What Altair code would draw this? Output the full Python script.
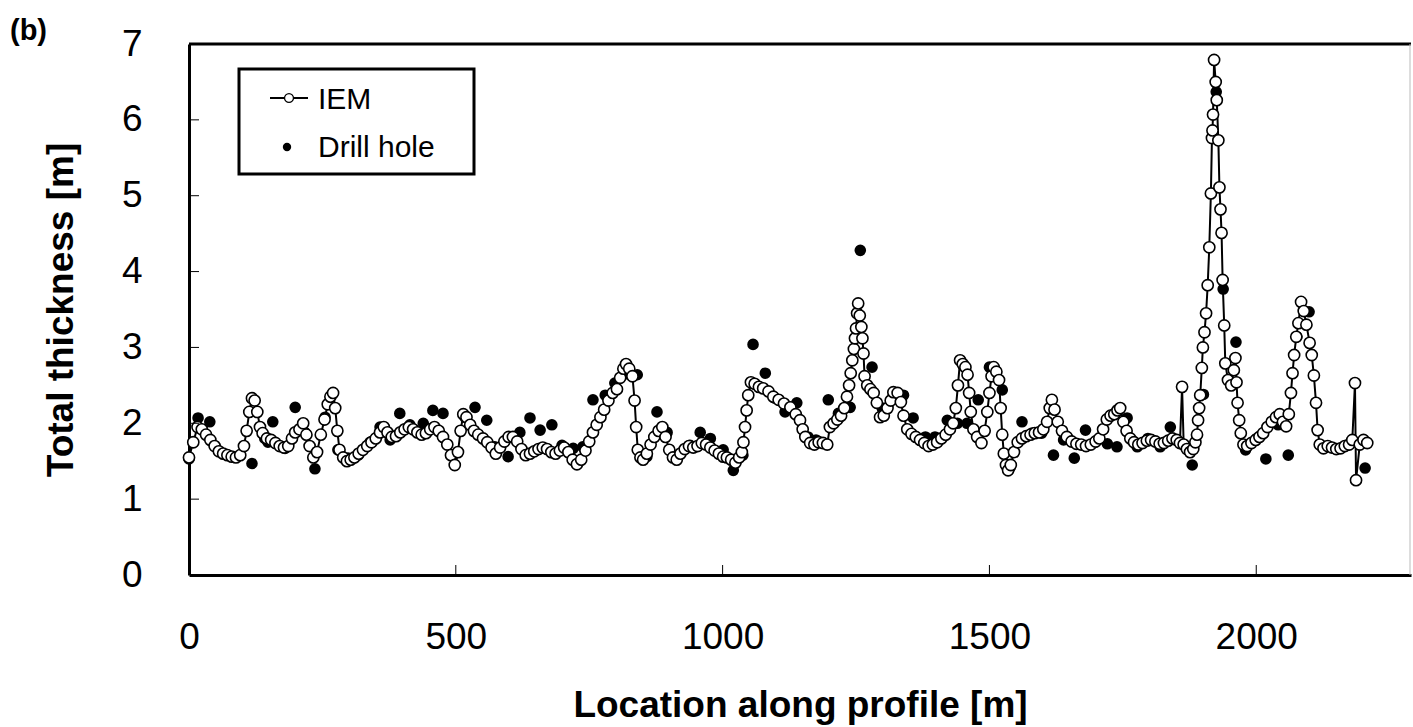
import altair as alt
import pandas as pd

# ---------------- data ----------------
iem_x = [0, 8, 16, 24, 32, 40, 48, 56, 64, 72, 80, 88, 96, 103, 108, 113, 118, 123, 128, 133,
         138, 146, 154, 162, 170, 178, 186, 193, 199, 207, 214, 220, 226, 233, 240, 247, 254, 260, 265, 270,
         274, 278, 282, 289, 296, 303, 310, 318, 326, 334, 342, 350, 358, 365, 372, 380, 388, 396, 404, 412,
         420, 428, 436, 444, 452, 460, 468, 476, 484, 491, 498, 504, 509, 514, 520, 527, 534, 542, 551, 559,
         567, 575, 583, 591, 599, 607, 615, 623, 631, 639, 647, 655, 663, 671, 679, 687, 695, 703, 711, 719,
         727, 735, 743, 750, 757, 764, 771, 778, 786, 794, 802, 808, 814, 819, 825, 831, 835, 838, 841, 846,
         851, 858, 865, 872, 880, 887, 893, 900, 907, 914, 921, 929, 937, 945, 953, 961, 969, 977, 985, 993,
         1001, 1008, 1016, 1024, 1031, 1036, 1039, 1042, 1045, 1048, 1053, 1060, 1068, 1076, 1086, 1095, 1105, 1115, 1127, 1137,
         1145, 1150, 1155, 1164, 1172, 1180, 1188, 1196, 1201, 1208, 1215, 1222, 1228, 1233, 1237, 1240, 1243, 1246, 1248, 1250,
         1252, 1254, 1257, 1260, 1262, 1264, 1266, 1271, 1277, 1283, 1289, 1295, 1302, 1309, 1315, 1320, 1328, 1334, 1339, 1346,
         1354, 1362, 1370, 1378, 1386, 1394, 1402, 1410, 1418, 1426, 1432, 1437, 1441, 1445, 1450, 1455, 1459, 1462, 1465, 1470,
         1477, 1485, 1491, 1496, 1500, 1504, 1508, 1513, 1518, 1521, 1524, 1527, 1531, 1535, 1540, 1546, 1553, 1561, 1569, 1577,
         1585, 1593, 1601, 1608, 1613, 1617, 1622, 1628, 1636, 1645, 1654, 1663, 1672, 1681, 1690, 1699, 1706, 1713, 1720, 1727,
         1734, 1740, 1745, 1751, 1757, 1764, 1771, 1779, 1787, 1795, 1803, 1811, 1819, 1827, 1835, 1843, 1851, 1857, 1861, 1864,
         1870, 1876, 1882, 1886, 1889, 1891, 1893, 1895, 1898, 1900, 1903, 1906, 1909, 1912, 1915, 1917, 1918, 1919, 1921, 1924,
         1926, 1929, 1931, 1933, 1935, 1937, 1940, 1942, 1947, 1953, 1958, 1961, 1963, 1965, 1968, 1971, 1976, 1983, 1991, 1999,
         2006, 2013, 2021, 2029, 2037, 2044, 2050, 2056, 2061, 2065, 2068, 2071, 2075, 2079, 2084, 2089, 2094, 2100, 2104, 2108,
         2112, 2115, 2119, 2126, 2134, 2142, 2150, 2158, 2166, 2174, 2180, 2185, 2187, 2194, 2201, 2208]
iem_y = [1.55, 1.75, 1.95, 1.92, 1.85, 1.78, 1.70, 1.63, 1.60, 1.58, 1.56, 1.55, 1.58, 1.70, 1.90, 2.15, 2.33, 2.30, 2.15, 1.95,
         1.87, 1.80, 1.78, 1.74, 1.70, 1.68, 1.70, 1.80, 1.88, 1.92, 2.00, 1.85, 1.70, 1.55, 1.62, 1.85, 2.05, 2.25, 2.35, 2.40,
         2.20, 1.90, 1.65, 1.55, 1.50, 1.52, 1.55, 1.60, 1.65, 1.70, 1.75, 1.80, 1.88, 1.95, 1.88, 1.82, 1.83, 1.88, 1.92, 1.95,
         1.92, 1.88, 1.85, 1.87, 1.92, 1.95, 1.90, 1.82, 1.72, 1.58, 1.45, 1.62, 1.90, 2.12, 2.08, 1.98, 1.90, 1.85, 1.80, 1.75,
         1.68, 1.60, 1.68, 1.76, 1.82, 1.82, 1.76, 1.66, 1.58, 1.60, 1.63, 1.66, 1.68, 1.66, 1.62, 1.60, 1.64, 1.68, 1.62, 1.52,
         1.46, 1.52, 1.64, 1.76, 1.88, 1.98, 2.08, 2.18, 2.30, 2.40, 2.45, 2.60, 2.72, 2.78, 2.72, 2.62, 2.30, 1.95, 1.65, 1.55,
         1.52, 1.60, 1.72, 1.82, 1.90, 1.95, 1.82, 1.65, 1.55, 1.52, 1.60, 1.66, 1.70, 1.68, 1.70, 1.74, 1.72, 1.68, 1.64, 1.60,
         1.56, 1.55, 1.52, 1.48, 1.55, 1.62, 1.75, 1.95, 2.17, 2.37, 2.54, 2.52, 2.48, 2.46, 2.42, 2.35, 2.31, 2.26, 2.21, 2.12,
         2.04, 1.92, 1.82, 1.74, 1.72, 1.75, 1.74, 1.72, 1.95, 2.00, 2.05, 2.10, 2.20, 2.35, 2.50, 2.66, 2.83, 2.98, 3.12, 3.25,
         3.45, 3.58, 3.42, 3.27, 3.12, 2.92, 2.62, 2.50, 2.45, 2.40, 2.27, 2.08, 2.10, 2.20, 2.30, 2.41, 2.40, 2.28, 2.10, 1.92,
         1.86, 1.82, 1.78, 1.74, 1.70, 1.72, 1.75, 1.80, 1.85, 1.92, 2.00, 2.20, 2.50, 2.83, 2.78, 2.74, 2.64, 2.40, 2.15, 1.92,
         1.82, 1.74, 1.90, 2.15, 2.40, 2.62, 2.74, 2.68, 2.57, 2.20, 1.85, 1.60, 1.45, 1.38, 1.45, 1.62, 1.75, 1.80, 1.83, 1.85,
         1.87, 1.88, 1.92, 2.02, 2.20, 2.31, 2.18, 2.02, 1.90, 1.82, 1.76, 1.73, 1.72, 1.70, 1.72, 1.76, 1.80, 1.92, 2.05, 2.10,
         2.12, 2.17, 2.20, 2.02, 1.90, 1.80, 1.75, 1.72, 1.74, 1.77, 1.78, 1.76, 1.73, 1.74, 1.77, 1.80, 1.78, 1.74, 2.48, 1.72,
         1.66, 1.62, 1.66, 1.75, 1.85, 2.04, 2.20, 2.37, 2.73, 3.00, 3.20, 3.45, 3.82, 4.32, 5.03, 5.76, 5.86, 6.07, 6.79, 6.50,
         6.26, 5.73, 5.11, 4.82, 4.51, 3.89, 3.29, 2.79, 2.57, 2.50, 2.70, 2.86, 2.54, 2.27, 2.04, 1.87, 1.72, 1.70, 1.74, 1.78,
         1.82, 1.87, 1.95, 2.02, 2.08, 2.12, 2.02, 1.96, 2.12, 2.40, 2.66, 2.90, 3.14, 3.32, 3.60, 3.48, 3.30, 3.06, 2.90, 2.63,
         2.27, 1.91, 1.72, 1.67, 1.70, 1.68, 1.66, 1.67, 1.70, 1.72, 1.78, 2.53, 1.25, 1.72, 1.78, 1.74]

drill_x = [0, 17, 39, 118, 142, 148, 157, 180, 199, 217, 236, 255, 279, 298, 317, 339, 358, 377, 395, 414,
           439, 457, 476, 495, 517, 536, 558, 573, 598, 620, 639, 658, 680, 699, 720, 738, 757, 780, 798, 817,
           840, 858, 877, 896, 917, 939, 958, 977, 1001, 1020, 1038, 1057, 1080, 1098, 1117, 1139, 1160, 1175, 1198, 1217,
           1239, 1258, 1280, 1299, 1320, 1339, 1357, 1380, 1398, 1421, 1440, 1458, 1479, 1500, 1524, 1539, 1561, 1580, 1598, 1620,
           1639, 1659, 1680, 1698, 1721, 1739, 1758, 1777, 1797, 1820, 1839, 1857, 1880, 1901, 1925, 1938, 1962, 1980, 2001, 2018,
           2041, 2060, 2076, 2099, 2204]
drill_y = [1.53, 2.07, 2.02, 1.47, 1.80, 1.75, 2.02, 1.67, 2.21, 1.88, 1.40, 2.08, 1.65, 1.54, 1.58, 1.75, 1.95, 1.78, 2.13, 1.98,
           2.00, 2.17, 2.13, 1.58, 2.08, 2.21, 2.04, 1.69, 1.56, 1.88, 2.07, 1.91, 1.98, 1.71, 1.67, 1.69, 2.31, 2.37, 2.53, 2.65,
           2.64, 1.56, 2.15, 1.88, 1.58, 1.71, 1.88, 1.80, 1.65, 1.38, 1.58, 3.04, 2.66, 2.33, 2.15, 2.27, 1.82, 1.78, 2.31, 2.13,
           2.21, 4.28, 2.74, 2.20, 2.37, 2.37, 2.07, 1.82, 1.82, 2.04, 2.00, 2.00, 2.31, 2.74, 2.44, 1.42, 2.02, 1.87, 1.87, 1.58,
           1.78, 1.54, 1.91, 1.75, 1.73, 1.69, 2.07, 1.69, 1.80, 1.69, 1.95, 1.75, 1.45, 2.38, 6.37, 3.77, 3.07, 1.65, 1.80, 1.53,
           1.98, 1.58, 3.14, 3.47, 1.41]

x_ticks = [0, 500, 1000, 1500, 2000]
x_inner_ticks = [500, 1000, 1500, 2000]
y_ticks = [0, 1, 2, 3, 4, 5, 6, 7]
y_inner_ticks = [1, 2, 3, 4, 5, 6]
legend_labels = ["IEM", "Drill hole"]
panel_label = ["(b)"]

# ---------------- layout / style ----------------
W, H = 1222, 531
FONT = "Liberation Sans, Arial, Helvetica, sans-serif"

iem = pd.DataFrame({"x": iem_x, "y": iem_y})
drill = pd.DataFrame({"x": drill_x, "y": drill_y})
one = pd.DataFrame({"k": [0]})

xscale = alt.Scale(domain=[0, 2290], nice=False, zero=False)
yscale = alt.Scale(domain=[0, 7], nice=False, zero=False)

xaxis = alt.Axis(values=x_ticks, format="d", title="Location along profile [m]", labelFontSize=37,
                 labelFont=FONT, labelColor="black", labelPadding=44, tickSize=0, domainWidth=3,
                 domainColor="black", grid=False, labelFlush=False, titleFont=FONT, titleFontSize=37,
                 titleFontWeight="bold", titleColor="black", titleX=W / 2, titleY=141,
                 titleBaseline="alphabetic", titleAlign="center")
yaxis = alt.Axis(values=y_ticks, format="d", title="Total thickness [m]", labelFontSize=37, labelFont=FONT,
                 labelColor="black", labelPadding=47, tickSize=0, domainWidth=3, domainColor="black",
                 grid=False, labelFlush=False, titleFont=FONT, titleFontSize=37, titleFontWeight="bold",
                 titleColor="black", titleX=-117, titleY=H / 2, titleAngle=270, titleBaseline="alphabetic",
                 titleAlign="center")

X = alt.X("x:Q", scale=xscale, axis=xaxis)
Y = alt.Y("y:Q", scale=yscale, axis=yaxis)

drill_layer = alt.Chart(drill).mark_circle(color="black", size=135, opacity=1).encode(x=X, y=Y)
iem_line = alt.Chart(iem).mark_line(color="black", strokeWidth=2).encode(x=X, y=Y, order="x:Q")
iem_pts = alt.Chart(iem).mark_circle(fill="white", stroke="black", strokeWidth=1.6, size=125,
                                     opacity=1).encode(x=X, y=Y)

xt = alt.Chart(pd.DataFrame({"x": x_inner_ticks})).mark_rule(color="black", strokeWidth=1).encode(
    x=X, y=alt.value(H), y2=alt.value(H - 10))
yt = alt.Chart(pd.DataFrame({"y": y_inner_ticks})).mark_rule(color="black", strokeWidth=1).encode(
    y=Y, x=alt.value(0), x2=alt.value(10))

top_border = alt.Chart(one).mark_rule(color="black", strokeWidth=3).encode(
    x=alt.value(0), x2=alt.value(W), y=alt.value(0))
right_border = alt.Chart(one).mark_rule(color="#bbbbbb", strokeWidth=1).encode(
    x=alt.value(W - 1), y=alt.value(0), y2=alt.value(H))

# legend (drawn by hand to reproduce the boxed Excel-style legend)
leg_box = alt.Chart(one).mark_rect(fill="white", stroke="black", strokeWidth=3).encode(
    x=alt.value(50), x2=alt.value(285), y=alt.value(25), y2=alt.value(130))
leg_line = alt.Chart(one).mark_rule(color="black", strokeWidth=2).encode(
    x=alt.value(81), x2=alt.value(119), y=alt.value(54))
leg_open = alt.Chart(one).mark_circle(fill="white", stroke="black", strokeWidth=1.3, size=80, opacity=1).encode(
    x=alt.value(100), y=alt.value(54))
leg_dot = alt.Chart(one).mark_circle(color="black", size=70, opacity=1).encode(
    x=alt.value(98), y=alt.value(103))
leg_t1 = alt.Chart(pd.DataFrame({"t": [legend_labels[0]]})).mark_text(
    align="left", baseline="alphabetic", fontSize=30, font=FONT, color="black").encode(
    x=alt.value(129), y=alt.value(65), text="t:N")
leg_t2 = alt.Chart(pd.DataFrame({"t": [legend_labels[1]]})).mark_text(
    align="left", baseline="alphabetic", fontSize=30, font=FONT, color="black").encode(
    x=alt.value(129), y=alt.value(113), text="t:N")

panel = alt.Chart(pd.DataFrame({"t": panel_label})).mark_text(
    align="left", baseline="alphabetic", fontSize=29, fontWeight="bold", font=FONT, color="black").encode(
    x=alt.value(-179), y=alt.value(-4), text="t:N")

chart = alt.layer(
    drill_layer, iem_line, iem_pts, xt, yt, top_border, right_border,
    leg_box, leg_line, leg_open, leg_dot, leg_t1, leg_t2, panel
).properties(
    width=W, height=H,
    autosize=alt.AutoSizeParams(type="none"),
    padding={"left": 189, "top": 44, "right": 2, "bottom": 152},
    background="white",
).configure_view(stroke=None)

chart.save("out.html", embed_options={"renderer": "svg", "actions": False})
